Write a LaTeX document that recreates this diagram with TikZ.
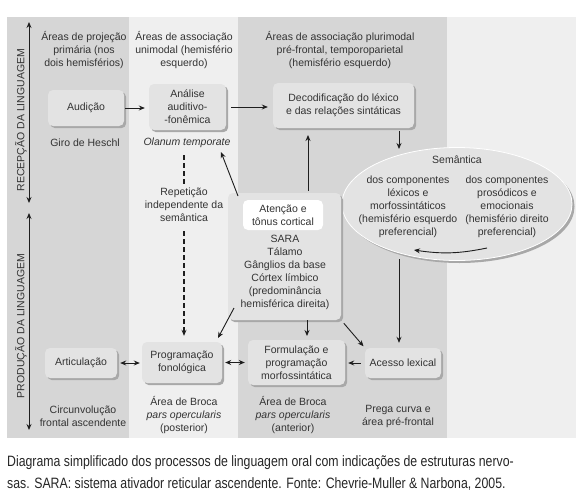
\documentclass[tikz,border=0pt]{standalone}
\usepackage{fontspec}
\setmainfont{Liberation Sans}
\newfontfamily\captionFont[FakeStretch=0.82]{Liberation Sans}
\usetikzlibrary{arrows.meta,shadows,shapes.geometric}
\definecolor{panelDark}{HTML}{D6D6D6}
\definecolor{panelLight}{HTML}{EFEFEF}
\definecolor{boxFill}{HTML}{E3E3E3}
\definecolor{shadowGray}{HTML}{A8A8A8}
\definecolor{textGray}{HTML}{333333}
\definecolor{lineGray}{HTML}{1E1E1E}
\newcommand{\diagFont}{\fontsize{10.5}{13}\selectfont}
\begin{document}
\begin{tikzpicture}[x=1pt,y=-1pt,
  procBox/.style={rectangle, rounded corners=5pt, fill=boxFill, align=center, font=\diagFont, text=textGray, inner sep=2pt,
    drop shadow={shadow xshift=2.2pt, shadow yshift=-2.2pt, fill=shadowGray, opacity=1}},
  areaLabel/.style={align=center, font=\diagFont, text=textGray, inner sep=0pt},
  axisLabel/.style={rotate=90, font=\diagFont, text=textGray, inner sep=0pt},
  captionLine/.style={anchor=base west, font=\captionFont\fontsize{15}{18}\selectfont, text=black!85, inner sep=0pt},
  flowArrow/.style={-{Stealth[length=6pt,width=5pt]}, line width=0.9pt, draw=lineGray},
  bothArrow/.style={{Stealth[length=6pt,width=5pt]}-{Stealth[length=6pt,width=5pt]}, line width=0.9pt, draw=lineGray},
  dashedLine/.style={dashed, dash pattern=on 5pt off 3pt, line width=1.1pt, draw=lineGray}
]
\useasboundingbox (0,0) rectangle (586,501);
\fill[panelLight] (7,17) rectangle (576,438);
\fill[panelDark] (7,17) rectangle (129,438);
\fill[panelDark] (238,17) rectangle (447,438);

\draw[bothArrow] (29,22) -- (29,203);
\node[axisLabel] (recepcao) at (21,120) {RECEPÇÃO DA LINGUAGEM};
\draw[bothArrow] (29,213) -- (29,430);
\node[axisLabel] (producao) at (21,326) {PRODUÇÃO DA LINGUAGEM};

\node[areaLabel] (hdrProj) at (84,50) {Áreas de projeção\\primária (nos\\dois hemisférios)};
\node[areaLabel] (hdrUni) at (184,50) {Áreas de associação\\unimodal (hemisfério\\esquerdo)};
\node[areaLabel] (hdrPluri) at (340,50) {Áreas de associação plurimodal\\pré-frontal, temporoparietal\\(hemisfério esquerdo)};

\node[procBox, minimum width=76pt, minimum height=36pt] (audicao) at (86,108) {Audição};
\node[procBox, minimum width=77pt, minimum height=46pt] (analise) at (187.5,107) {Análise\\auditivo-\\-fonêmica};
\node[procBox, minimum width=141pt, minimum height=45pt] (decod) at (343.5,105.5) {Decodificação do léxico\\e das relações sintáticas};
\node[areaLabel] (giro) at (85,143) {Giro de Heschl};
\node[areaLabel, font=\diagFont\itshape] (olanum) at (187,143) {Olanum temporate};
\node[areaLabel] (repeticao) at (184,205) {Repetição\\independente da\\semântica};

\node[ellipse, minimum width=230pt, minimum height=113pt, fill=boxFill, draw=white, line width=0.8pt,
  drop shadow={shadow xshift=2.5pt, shadow yshift=-2.5pt, fill=shadowGray, opacity=1}] (semantica) at (457,204) {};
\node[areaLabel] (semTitle) at (457,160) {Semântica};
\node[areaLabel] (semLex) at (408,206.5) {dos componentes\\léxicos e\\morfossintáticos\\(hemisfério esquerdo\\preferencial)};
\node[areaLabel] (semPros) at (507,206.5) {dos componentes\\prosódicos e\\emocionais\\(hemisfério direito\\preferencial)};

\node[procBox, minimum width=113pt, minimum height=127pt] (atencao) at (284.5,256.5) {};
\node[areaLabel, fill=white, rounded corners=5pt, minimum width=80pt, minimum height=30pt] (atencaoTit) at (283,215) {Atenção e\\tônus cortical};
\node[areaLabel] (atencaoList) at (285,272.5) {SARA\\Tálamo\\Gânglios da base\\Córtex límbico\\(predominância\\hemisférica direita)};

\node[procBox, minimum width=72pt, minimum height=30pt] (articulacao) at (81,363) {Articulação};
\node[procBox, minimum width=80pt, minimum height=41pt] (programacao) at (182,362.5) {Programação\\fonológica};
\node[procBox, minimum width=97pt, minimum height=45pt] (formulacao) at (296.5,362.5) {Formulação e\\programação\\morfossintática};
\node[procBox, minimum width=76pt, minimum height=30pt] (acesso) at (403,363) {Acesso lexical};

\node[areaLabel] (circ) at (83,416) {Circunvolução\\frontal ascendente};
\node[areaLabel] (brocaPost) at (184,415) {Área de Broca\\\textit{pars opercularis}\\(posterior)};
\node[areaLabel] (brocaAnt) at (293,415) {Área de Broca\\\textit{pars opercularis}\\(anterior)};
\node[areaLabel] (prega) at (398,416) {Prega curva e\\área pré-frontal};

\coordinate (semIn) at (399,149);
\coordinate (semOut) at (399,259);
\coordinate (semCurveA) at (487,248);
\coordinate (semCurveB) at (414,250);
\coordinate (decodIn) at (308,135);
\coordinate (olanumTip) at (221,152);
\coordinate (atencaoTopLeft) at (238,196);
\coordinate (atencaoLowLeft) at (234,308);
\coordinate (progTip) at (218,338);
\coordinate (formIn) at (307,336);

\draw[flowArrow, shorten <=1pt, shorten >=4pt] (audicao.east) -- (audicao.east -| analise.west);
\draw[flowArrow, shorten <=5pt, shorten >=5pt] (analise.east) -- (analise.east -| decod.west);
\draw[flowArrow, shorten <=3pt] (decod.south -| semIn) -- (semIn);
\draw[flowArrow] (semCurveA) to[bend left=10] (semCurveB);
\draw[flowArrow] (semOut) -- ([yshift=5pt]semOut |- acesso.north);
\draw[flowArrow, shorten <=2pt] (atencao.north -| decodIn) -- (decodIn);
\draw[flowArrow] (atencaoTopLeft) -- (olanumTip);
\draw[flowArrow] (atencaoLowLeft) -- (progTip);
\draw[flowArrow] (atencao.south -| formIn) -- (formIn);
\draw[flowArrow, shorten <=4pt, shorten >=2pt] (atencao.south east) -- (acesso.north west);
\draw[flowArrow, shorten <=4pt, shorten >=3pt] (acesso.west) -- (acesso.west -| formulacao.east);
\draw[bothArrow, shorten <=3pt, shorten >=2pt] (articulacao.east) -- (articulacao.east -| programacao.west);
\draw[bothArrow, shorten <=3pt, shorten >=3pt] (programacao.east) -- (programacao.east -| formulacao.west);
\draw[dashedLine, shorten <=4pt, shorten >=6pt] (repeticao.north) -- (repeticao.north |- olanum.south);
\draw[dashedLine, -{Stealth[length=6pt,width=5pt]}, shorten <=9pt, shorten >=6pt] (repeticao.south) -- (repeticao.south |- programacao.north);

\node[captionLine] (capLineA) at (7,466) {Diagrama simplificado dos processos de linguagem oral com indicações de estruturas nervo-};
\node[captionLine] (capLineB) at (7,488) {sas. SARA: sistema ativador reticular ascendente. Fonte: Chevrie-Muller \& Narbona, 2005.};
\end{tikzpicture}
\end{document}
